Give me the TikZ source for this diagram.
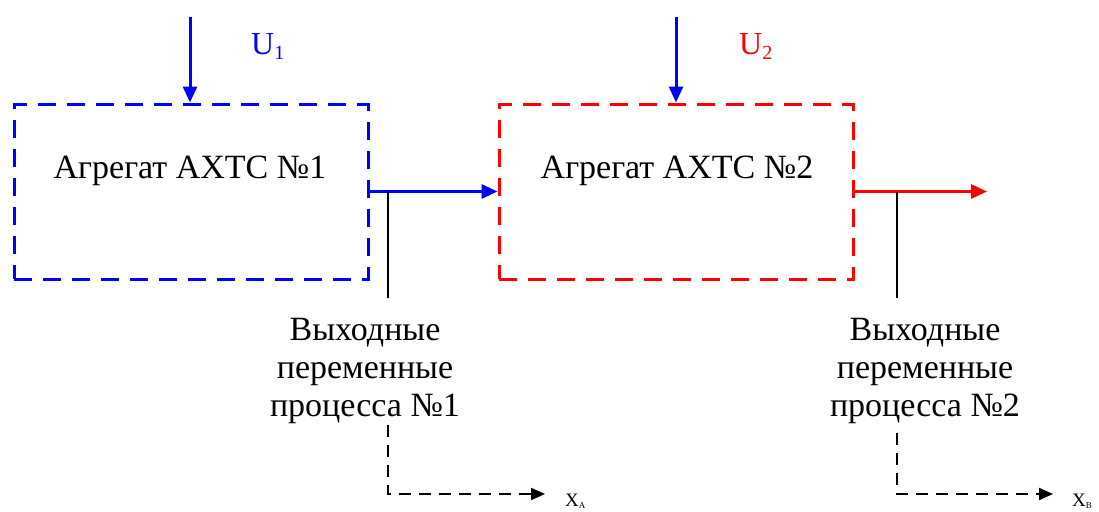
\documentclass[tikz,border=0pt]{standalone}
\usepackage{fontspec}
\setmainfont{Liberation Serif}
\usetikzlibrary{arrows.meta}
\definecolor{myblue}{RGB}{0,0,255}
\definecolor{myred}{RGB}{255,0,0}
\begin{document}
\begin{tikzpicture}[x=1pt,y=-1pt,
  boxline/.style={draw, line width=3pt, dash pattern=on 18pt off 11pt, minimum width=354pt, minimum height=175pt, inner sep=0pt},
  flow/.style={line width=3pt, -{Triangle[length=16pt,width=14pt]}},
  tap/.style={line width=1.5pt, black},
  dashflow/.style={line width=2pt, dash pattern=on 12pt off 8pt, -{Triangle[length=14pt,width=12pt]}},
  lbl/.style={font=\fontsize{34}{38}\selectfont, align=center, inner sep=0pt},
  ulbl/.style={font=\fontsize{32}{38}\selectfont, inner sep=0pt},
  xlbl/.style={font=\fontsize{19}{20}\selectfont, inner sep=0pt}]
\useasboundingbox (0,0) rectangle (1099,511);
% boxes
\node[boxline, myblue] (box1) at (191,191.5) {};
\node[boxline, myred] (box2) at (676,191.5) {};
\node[lbl] (t1) at (190,171) {Агрегат АХТС №1};
\node[lbl] (t2) at (677,171) {Агрегат АХТС №2};
% inputs
\coordinate (in1) at (190,17);
\coordinate (in2) at (676,17);
\draw[flow, myblue] (in1) -- (box1.north -| in1);
\draw[flow, myblue] (in2) -- (box2.north -| in2);
\node[ulbl, text=myblue, anchor=base west] (u1) at (251,55) {U\textsubscript{\fontsize{20}{22}\selectfont 1}};
\node[ulbl, text=myred, anchor=base west] (u2) at (739,55) {U\textsubscript{\fontsize{20}{22}\selectfont 2}};
% connectors
\draw[flow, myblue] (box1.east) -- (box2.west);
\coordinate (out2) at (987,191.5);
\draw[flow, myred] (box2.east) -- (out2);
% taps
\coordinate (tap1) at (388,191.5);
\coordinate (tap2) at (897,191.5);
\coordinate (b1) at (388,298);
\coordinate (b2) at (897,298);
\draw[tap] (tap1) -- (b1);
\draw[tap] (tap2) -- (b2);
% output texts
\node[lbl, anchor=north] (o1) at (365,318) {Выходные\\переменные\\процесса №1};
\node[lbl, anchor=north] (o2) at (925,318) {Выходные\\переменные\\процесса №2};
% dashed outputs
\coordinate (d1) at (388,425);
\coordinate (c1) at (388,494);
\coordinate (e1) at (545,494);
\coordinate (d2) at (897,433);
\coordinate (c2) at (897,494);
\coordinate (e2) at (1053,494);
\draw[dashflow] (d1) -- (c1) -- (e1);
\draw[dashflow] (d2) -- (c2) -- (e2);
\node[xlbl, anchor=base west] (x1) at (565,506) {X\textsubscript{\fontsize{9}{10}\selectfont А}};
\node[xlbl, anchor=base west] (x2) at (1072,506) {X\textsubscript{\fontsize{9}{10}\selectfont В}};
\end{tikzpicture}
\end{document}
